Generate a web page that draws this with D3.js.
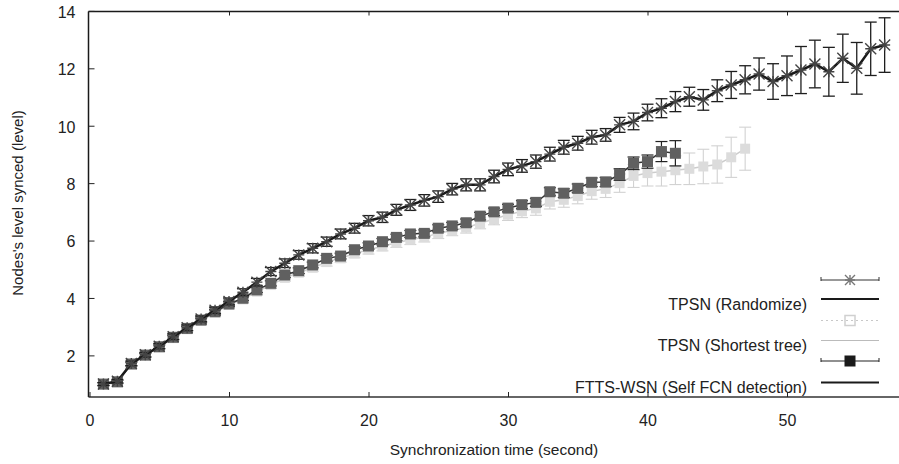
<!DOCTYPE html>
<html><head><meta charset="utf-8">
<script src="https://cdn.jsdelivr.net/npm/d3@7"></script>
<style>body{margin:0;background:#fff;} svg{display:block;font-family:"Liberation Sans",Arial,sans-serif;}</style>
</head><body><svg id="c" width="899" height="464"></svg>
<script>
const timesRand = [1,2,3,4,5,6,7,8,9,10,11,12,13,14,15,16,17,18,19,20,21,22,23,24,25,26,27,28,29,30,31,32,33,34,35,36,37,38,39,40,41,42,43,44,45,46,47,48,49,50,51,52,53,54,55,56,57];
const randValues = [1.0,1.1,1.72,2.02,2.32,2.65,2.96,3.27,3.57,3.88,4.2,4.55,4.92,5.21,5.5,5.73,5.96,6.23,6.43,6.69,6.81,7.07,7.24,7.4,7.53,7.79,7.94,7.94,8.23,8.48,8.6,8.75,9.01,9.25,9.39,9.6,9.68,10.03,10.15,10.46,10.61,10.84,11.01,10.9,11.22,11.42,11.6,11.8,11.54,11.74,11.94,12.15,11.88,12.35,12.0,12.68,12.81];
const randErr = [0.05,0.06,0.08,0.08,0.09,0.1,0.1,0.1,0.11,0.12,0.12,0.13,0.14,0.15,0.15,0.16,0.16,0.17,0.17,0.18,0.18,0.19,0.19,0.2,0.2,0.2,0.21,0.21,0.22,0.22,0.22,0.23,0.24,0.24,0.24,0.24,0.22,0.26,0.29,0.29,0.33,0.35,0.33,0.36,0.38,0.47,0.49,0.56,0.62,0.69,0.82,0.83,0.85,0.84,0.9,0.93,0.95];

const timesShort = [1,2,3,4,5,6,7,8,9,10,11,12,13,14,15,16,17,18,19,20,21,22,23,24,25,26,27,28,29,30,31,32,33,34,35,36,37,38,39,40,41,42,43,44,45,46,47];
const shortValues = [0.98,1.06,1.68,1.99,2.28,2.6,2.91,3.2,3.49,3.76,3.95,4.22,4.45,4.7,4.88,5.05,5.25,5.38,5.55,5.68,5.8,5.92,6.03,6.12,6.25,6.35,6.45,6.6,6.75,6.9,7.02,7.12,7.35,7.42,7.55,7.72,7.8,8.0,8.25,8.35,8.4,8.45,8.5,8.58,8.65,8.9,9.2];
const shortErr = [0.06,0.06,0.07,0.07,0.08,0.08,0.09,0.09,0.1,0.1,0.11,0.11,0.12,0.12,0.13,0.13,0.14,0.14,0.15,0.15,0.16,0.16,0.17,0.17,0.18,0.18,0.19,0.19,0.2,0.2,0.22,0.24,0.25,0.26,0.27,0.28,0.3,0.32,0.4,0.45,0.5,0.5,0.55,0.6,0.65,0.7,0.75];

const timesFtts = [1,2,3,4,5,6,7,8,9,10,11,12,13,14,15,16,17,18,19,20,21,22,23,24,25,26,27,28,29,30,31,32,33,34,35,36,37,38,39,40,41,42];
const fttsValues = [1.0,1.08,1.7,2.01,2.3,2.63,2.94,3.23,3.52,3.79,3.99,4.28,4.51,4.8,4.95,5.15,5.38,5.46,5.68,5.81,5.96,6.11,6.23,6.25,6.43,6.51,6.62,6.85,7.0,7.13,7.25,7.33,7.7,7.65,7.82,8.03,8.04,8.3,8.69,8.75,9.1,9.04];
const fttsErr = [0.05,0.05,0.06,0.06,0.06,0.07,0.07,0.07,0.08,0.08,0.08,0.09,0.09,0.09,0.1,0.1,0.1,0.1,0.11,0.11,0.11,0.11,0.12,0.12,0.12,0.12,0.13,0.13,0.13,0.13,0.14,0.14,0.14,0.15,0.15,0.15,0.16,0.2,0.22,0.23,0.35,0.44];

const xTicks = [0,10,20,30,40,50];
const yTicks = [2,4,6,8,10,12,14];
const legendLabels = ["TPSN (Randomize)","TPSN (Shortest tree)","FTTS-WSN (Self FCN detection)"];
const xTitle = "Synchronization time (second)";
const yTitle = "Nodes's level synced (level)";

const svg = d3.select("#c");
const L = 88.5, R = 899 + 2, T = 11.5, B = 397;
const x = d3.scaleLinear().domain([0, 58.05]).range([89.5, 89.5 + 58.05*13.95]);
const y = d3.scaleLinear().domain([0.55, 14]).range([B, 10.9]);

// frame
svg.append("line").attr("x1",L).attr("x2",L).attr("y1",T).attr("y2",B).attr("stroke","#1a1a1a").attr("stroke-width",1.5);
svg.append("line").attr("x1",L).attr("x2",R).attr("y1",B).attr("y2",B).attr("stroke","#333").attr("stroke-width",1.3);
svg.append("line").attr("x1",L).attr("x2",R).attr("y1",T).attr("y2",T).attr("stroke","#1a1a1a").attr("stroke-width",1.6);

// axes via d3
const xAxis = svg.append("g").attr("transform",`translate(0,${B})`)
  .call(d3.axisBottom(x).tickValues(xTicks).tickSize(-5).tickPadding(14).tickFormat(d3.format("d")));
xAxis.select(".domain").remove();
xAxis.selectAll("line").attr("stroke","#222");
xAxis.selectAll("text").attr("font-size",16).attr("fill","#222").attr("dy","0.85em").attr("y",15);
const xAxisTop = svg.append("g").attr("transform",`translate(0,${T})`)
  .call(d3.axisTop(x).tickValues(xTicks.filter(d=>d>0)).tickSize(-4).tickFormat(""));
xAxisTop.select(".domain").remove();
xAxisTop.selectAll("line").attr("stroke","#222");

const yAxis = svg.append("g").attr("transform",`translate(${L},0)`)
  .call(d3.axisLeft(y).tickValues(yTicks).tickSize(-6).tickPadding(13).tickFormat(d3.format("d")));
yAxis.select(".domain").remove();
yAxis.selectAll("line").attr("stroke","#222");
yAxis.selectAll("text").attr("font-size",16).attr("fill","#222").attr("dy","0.4em");

svg.append("text").attr("x",494).attr("y",455).attr("text-anchor","middle").attr("font-size",15.5).attr("fill","#222").text(xTitle);
svg.append("text").attr("transform","translate(23,203) rotate(-90)").attr("text-anchor","middle").attr("font-size",15).attr("fill","#222").text(yTitle);

function rows(ts, vs, es){ return ts.map((t,i)=>({t, v:vs[i], e:es[i]})); }
const shortData = rows(timesShort, shortValues, shortErr);
const fttsData = rows(timesFtts, fttsValues, fttsErr);
const randData = rows(timesRand, randValues, randErr);
const capW = 6;

function errorBars(g, data, color, w){
  const eb = g.append("g");
  data.forEach(d=>{
    const x0 = x(d.t), y1 = y(d.v + d.e), y2 = y(d.v - d.e);
    eb.append("line").attr("x1",x0).attr("x2",x0).attr("y1",y1).attr("y2",y2).attr("stroke",color).attr("stroke-width",w);
    eb.append("line").attr("x1",x0-capW).attr("x2",x0+capW).attr("y1",y1).attr("y2",y1).attr("stroke",color).attr("stroke-width",w);
    eb.append("line").attr("x1",x0-capW).attr("x2",x0+capW).attr("y1",y2).attr("y2",y2).attr("stroke",color).attr("stroke-width",w);
  });
}
const line = d3.line().x(d=>x(d.t)).y(d=>y(d.v));

// Shortest tree (light)
const gS = svg.append("g");
errorBars(gS, shortData, "#d2d2d2", 1.1);
gS.append("path").datum(shortData).attr("d",line).attr("fill","none").attr("stroke","#cccccc").attr("stroke-width",1.5);
gS.selectAll("rect").data(shortData).join("rect").attr("x",d=>x(d.t)-5).attr("y",d=>y(d.v)-5).attr("width",10).attr("height",10).attr("fill","#dcdcdc");

// FTTS-WSN
const gF = svg.append("g");
errorBars(gF, fttsData, "#222", 1.2);
gF.append("path").datum(fttsData).attr("d",line).attr("fill","none").attr("stroke","#333").attr("stroke-width",1.5);
gF.selectAll("rect").data(fttsData).join("rect").attr("x",d=>x(d.t)-5.5).attr("y",d=>y(d.v)-5.5).attr("width",11).attr("height",11).attr("fill","#606060");

// Randomize
const gR = svg.append("g");
errorBars(gR, randData, "#1e1e1e", 1.3);
gR.append("path").datum(randData).attr("d",line).attr("fill","none").attr("stroke","#1a1a1a").attr("stroke-width",2.5);
function asterisk(g, cx, cy, s, color){
  const p = `M${cx-s},${cy-s}L${cx+s},${cy+s}M${cx-s},${cy+s}L${cx+s},${cy-s}M${cx},${cy-s}L${cx},${cy+s}M${cx-s},${cy}L${cx+s},${cy}`;
  g.append("path").attr("d",p).attr("stroke",color).attr("stroke-width",1.4).attr("fill","none");
}
randData.forEach(d=>asterisk(gR, x(d.t), y(d.v), 5.5, "#444"));

// Legend
const lg = svg.append("g");
const lx1 = 821, lx2 = 879, lmx = 850;
// row 1: randomize errorbar sample
lg.append("line").attr("x1",lx1).attr("x2",lx2).attr("y1",280).attr("y2",280).attr("stroke","#333").attr("stroke-width",1);
[lx1,lx2].forEach(xx=>lg.append("line").attr("x1",xx).attr("x2",xx).attr("y1",277).attr("y2",281).attr("stroke","#333"));
asterisk(lg, lmx, 280, 5, "#777");
// row 2
lg.append("line").attr("x1",lx1).attr("x2",lx2).attr("y1",299).attr("y2",299).attr("stroke","#1a1a1a").attr("stroke-width",2);
lg.append("text").attr("x",807).attr("y",309.5).attr("text-anchor","end").attr("font-size",16).attr("fill","#222").text(legendLabels[0]);
// row 3: shortest errorbar sample
lg.append("line").attr("x1",lx1).attr("x2",lx2).attr("y1",320.5).attr("y2",320.5).attr("stroke","#c8c8c8").attr("stroke-width",1.2).attr("stroke-dasharray","2,3");
lg.append("rect").attr("x",lmx-5).attr("y",315.5).attr("width",10).attr("height",10).attr("fill","none").attr("stroke","#d0d0d0").attr("stroke-width",1.5);
// row 4
lg.append("line").attr("x1",lx1).attr("x2",lx2).attr("y1",340.5).attr("y2",340.5).attr("stroke","#bbb").attr("stroke-width",1.2);
lg.append("text").attr("x",807).attr("y",351).attr("text-anchor","end").attr("font-size",16).attr("fill","#222").text(legendLabels[1]);
// row 5: ftts errorbar sample
lg.append("line").attr("x1",lx1).attr("x2",lx2).attr("y1",361).attr("y2",361).attr("stroke","#222").attr("stroke-width",1.2);
[lx1,lx2].forEach(xx=>lg.append("line").attr("x1",xx).attr("x2",xx).attr("y1",358).attr("y2",362).attr("stroke","#222"));
lg.append("rect").attr("x",lmx-5.5).attr("y",355.5).attr("width",11).attr("height",11).attr("fill","#1a1a1a");
// row 6
lg.append("line").attr("x1",lx1).attr("x2",lx2).attr("y1",382.5).attr("y2",382.5).attr("stroke","#1a1a1a").attr("stroke-width",2);
lg.append("text").attr("x",807).attr("y",392.5).attr("text-anchor","end").attr("font-size",16).attr("fill","#222").text(legendLabels[2]);
</script></body></html>
